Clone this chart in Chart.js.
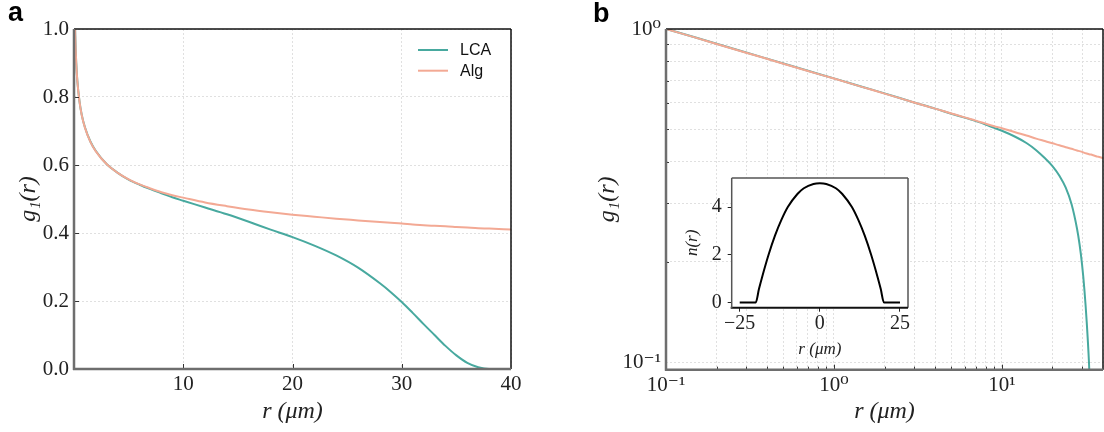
<!DOCTYPE html>
<html lang="en">
<head>
    <meta charset="UTF-8">
    <title>g1(r): LCA vs Alg</title>
    <style>
        body {
            margin: 0;
            background: #fff;
            width: 1104px;
            height: 432px;
            overflow: hidden;
            position: relative;
        }
        canvas { position: absolute; }
        #chartA { left: 0; top: 0; }
        #chartB { left: 580px; top: 0; }
        #chartC { left: 680px; top: 160px; }
    </style>
    <script src="https://cdn.jsdelivr.net/npm/chart.js"></script>
</head>
<body>
    <canvas id="chartA" width="560" height="432"></canvas>
    <canvas id="chartB" width="540" height="432"></canvas>
    <canvas id="chartC" width="240" height="210"></canvas>

    <script>
        // radius r (um) and the two correlation curves
        const radius    = [0.1, 0.15, 0.2, 0.3, 0.5, 0.7, 1, 1.5, 2, 3, 4, 5, 6, 7, 8, 9, 10, 12, 14, 16, 18, 20, 22, 24, 26, 28, 29, 30, 31, 32, 33, 34, 35, 36, 37, 38, 40];
        const lcaValues = [1.000, 0.943, 0.903, 0.850, 0.788, 0.749, 0.711, 0.669, 0.641, 0.602, 0.577, 0.557, 0.542, 0.529, 0.517, 0.505, 0.495, 0.475, 0.455, 0.433, 0.410, 0.388, 0.363, 0.334, 0.298, 0.252, 0.226, 0.197, 0.165, 0.132, 0.100, 0.068, 0.040, 0.018, 0.005, 0, 0];
        const algValues = [1.000, 0.942, 0.902, 0.849, 0.787, 0.748, 0.710, 0.668, 0.640, 0.602, 0.577, 0.558, 0.543, 0.531, 0.520, 0.511, 0.504, 0.490, 0.479, 0.469, 0.461, 0.454, 0.448, 0.442, 0.437, 0.432, 0.430, 0.428, 0.425, 0.423, 0.421, 0.420, 0.418, 0.416, 0.414, 0.413, 0.410];

        // inset: density profile n(r)
        const insetR = [-25, -20, -19, -18, -16, -14, -12, -10, -7, -5, -2, 0, 2, 5, 7, 10, 12, 14, 16, 18, 19, 20, 25];
        const insetN = [0, 0, 0.56, 1.07, 2.0, 2.8, 3.46, 4.0, 4.55, 4.79, 4.97, 5.0, 4.97, 4.79, 4.55, 4.0, 3.46, 2.8, 2.0, 1.07, 0.56, 0, 0];

        // tick values and labels
        const xTicksA  = [0, 10, 20, 30, 40];
        const xLabelsA = ['', '10', '20', '30', '40'];
        const yTicksA  = [0, 0.2, 0.4, 0.6, 0.8, 1.0];
        const yLabelsA = ['0.0', '0.2', '0.4', '0.6', '0.8', '1.0'];
        const xTicksB  = [0.1, 0.2, 0.3, 0.4, 0.5, 0.6, 0.7, 0.8, 0.9, 1, 2, 3, 4, 5, 6, 7, 8, 9, 10, 20, 30, 40];
        const xLabelsB = ['10⁻¹', '', '', '', '', '', '', '', '', '10⁰', '', '', '', '', '', '', '', '', '10¹', '', '', ''];
        const yTicksB  = [0.1, 0.2, 0.3, 0.4, 0.5, 0.6, 0.7, 0.8, 0.9, 1];
        const yLabelsB = ['10⁻¹', '', '', '', '', '', '', '', '', '10⁰'];
        const xTicksC  = [-25, 0, 25];
        const xLabelsC = ['\u221225', '0', '25'];
        const yTicksC  = [0, 2, 4];
        const yLabelsC = ['0', '2', '4'];

        const serif = "'Liberation Serif', 'DejaVu Serif', serif";
        const sans = "'Liberation Sans', Arial, sans-serif";
        const teal = '#48a99f';
        const salmon = '#f3a994';
        const gridColor = '#e0e0e0';
        const tickSize = 21;

        // white plot box, inward tick marks, spines, legend, panel letter
        const axesFrame = {
            id: 'axesFrame',
            beforeDraw(chart, args, opts) {
                if (!opts.fill) return;
                const { ctx, chartArea: a } = chart;
                ctx.save();
                ctx.fillStyle = '#fff';
                ctx.fillRect(a.left, a.top, a.right - a.left, a.bottom - a.top);
                ctx.restore();
            },
            afterDraw(chart, args, opts) {
                const { ctx, chartArea: a, scales } = chart;
                ctx.save();
                ctx.strokeStyle = '#333';
                ctx.lineWidth = 1;
                (opts.xMarks || []).forEach(m => {
                    const px = Math.round(scales.x.getPixelForValue(m[0])) + 0.5;
                    ctx.beginPath(); ctx.moveTo(px, a.bottom); ctx.lineTo(px, a.bottom - m[1]); ctx.stroke();
                });
                (opts.yMarks || []).forEach(m => {
                    const py = Math.round(scales.y.getPixelForValue(m[0])) + 0.5;
                    ctx.beginPath(); ctx.moveTo(a.left, py); ctx.lineTo(a.left + m[1], py); ctx.stroke();
                });

                const side = (x1, y1, x2, y2, s) => {
                    ctx.strokeStyle = s[0];
                    ctx.lineWidth = s[1];
                    ctx.beginPath(); ctx.moveTo(x1, y1); ctx.lineTo(x2, y2); ctx.stroke();
                };
                side(a.left, a.top, a.right, a.top, opts.top);
                side(a.right, a.top, a.right, a.bottom, opts.right);
                side(a.left - 1, a.bottom, a.right, a.bottom, opts.bottom);
                side(a.left, a.top, a.left, a.bottom + 1, opts.left);

                if (opts.legend) {
                    const L = opts.legend;
                    ctx.font = '16px ' + sans;
                    ctx.textBaseline = 'middle';
                    chart.data.datasets.forEach((ds, i) => {
                        const y = L.y + i * L.gap;
                        ctx.strokeStyle = ds.borderColor;
                        ctx.lineWidth = 2;
                        ctx.beginPath(); ctx.moveTo(L.x, y); ctx.lineTo(L.x + 30, y); ctx.stroke();
                        ctx.fillStyle = '#111';
                        ctx.fillText(ds.label, L.x + 42, y + 1);
                    });
                }
                if (opts.letter) {
                    ctx.font = 'bold 27px ' + sans;
                    ctx.textBaseline = 'alphabetic';
                    ctx.fillStyle = '#000';
                    ctx.fillText(opts.letter.text, opts.letter.x, opts.letter.y);
                }
                ctx.restore();
            }
        };

        function curve(label, xs, ys, color, order, positiveOnly) {
            const pts = xs.map((x, i) => ({ x: x, y: ys[i] })).filter(p => !positiveOnly || p.y > 0);
            return {
                label: label,
                data: pts,
                borderColor: color,
                borderWidth: 2,
                pointRadius: 0,
                fill: false,
                cubicInterpolationMode: 'monotone',
                order: order
            };
        }

        function axis(type, min, max, ticks, labels, pad, extra) {
            return Object.assign({
                type: type,
                min: min,
                max: max,
                afterBuildTicks: s => { s.ticks = ticks.map(v => ({ value: v })); },
                ticks: {
                    autoSkip: false, maxRotation: 0, padding: pad, color: '#222',
                    font: { family: serif, size: tickSize },
                    callback: (v, i) => labels[i]
                },
                grid: { color: gridColor, lineWidth: 1, drawTicks: false },
                border: { display: false, dash: [2, 2] }
            }, extra);
        }

        function title(text, size, pad) {
            return { display: true, text: text, color: '#222', padding: pad, font: { family: serif, size: size, style: 'italic' } };
        }

        const spines = {
            top: ['#111', 1.5], right: ['#111', 1.5],
            bottom: ['#6e6e6e', 2.5], left: ['#6e6e6e', 2.5]
        };

        // panel a : linear axes
        new Chart(document.getElementById('chartA'), {
            type: 'line',
            data: {
                datasets: [
                    curve('LCA', radius, lcaValues, teal, 1, false),
                    curve('Alg', radius, algValues, salmon, 0, false)
                ]
            },
            options: {
                responsive: false,
                animation: false,
                layout: { padding: { top: 29, right: 49, left: 0, bottom: 0 } },
                plugins: {
                    legend: { display: false },
                    tooltip: { enabled: false },
                    axesFrame: Object.assign({
                        xMarks: xTicksA.slice(1, -1).map(v => [v, 5]),
                        yMarks: yTicksA.slice(1, -1).map(v => [v, 5]),
                        legend: { x: 418, y: 50, gap: 20.7 },
                        letter: { text: 'a', x: 8, y: 21 }
                    }, spines)
                },
                scales: {
                    x: axis('linear', 0, 40, xTicksA, xLabelsA, 3, {
                        title: title('r (μm)', 24, { top: 0, bottom: 6 }),
                        afterFit: s => { s.height = 63; }
                    }),
                    y: axis('linear', 0, 1, yTicksA, yLabelsA, 5, {
                        title: title('g₁(r)', 24, { top: 14, bottom: 0 }),
                        afterFit: s => { s.width = 74; }
                    })
                }
            },
            plugins: [axesFrame]
        });

        // panel b : log-log axes
        new Chart(document.getElementById('chartB'), {
            type: 'line',
            data: {
                datasets: [
                    curve('LCA', radius, lcaValues, teal, 1, true),
                    curve('Alg', radius, algValues, salmon, 0, true)
                ]
            },
            options: {
                responsive: false,
                animation: false,
                layout: { padding: { top: 29, right: 17, left: 0, bottom: 0 } },
                plugins: {
                    legend: { display: false },
                    tooltip: { enabled: false },
                    axesFrame: Object.assign({
                        xMarks: xTicksB.slice(1, -1).map((v, i) => [v, xLabelsB[i + 1] ? 5 : 3]),
                        yMarks: yTicksB.slice(1, -1).map((v, i) => [v, yLabelsB[i + 1] ? 5 : 3]),
                        letter: { text: 'b', x: 13, y: 21.5 }
                    }, spines)
                },
                scales: {
                    x: axis('logarithmic', 0.1, 40, xTicksB, xLabelsB, 3, {
                        title: title('r (μm)', 24, { top: 0, bottom: 6 }),
                        afterFit: s => { s.height = 62.3; }
                    }),
                    y: axis('logarithmic', 0.095, 1, yTicksB, yLabelsB, 5, {
                        title: title('g₁(r)', 24, { top: 13, bottom: 0 }),
                        afterFit: s => { s.width = 86; }
                    })
                }
            },
            plugins: [axesFrame]
        });

        // inset : n(r)
        new Chart(document.getElementById('chartC'), {
            type: 'line',
            data: {
                datasets: [{
                    label: 'n(r)',
                    data: insetR.map((x, i) => ({ x: x, y: insetN[i] })),
                    borderColor: '#000',
                    borderWidth: 2,
                    pointRadius: 0,
                    fill: false,
                    cubicInterpolationMode: 'monotone'
                }]
            },
            options: {
                responsive: false,
                animation: false,
                layout: { padding: { top: 12, right: 12, left: 0, bottom: 0 } },
                plugins: {
                    legend: { display: false },
                    tooltip: { enabled: false },
                    axesFrame: {
                        fill: true,
                        top: ['#555', 1.5], right: ['#555', 1.5],
                        bottom: ['#111', 2], left: ['#555', 1.5]
                    }
                },
                scales: {
                    x: {
                        type: 'linear', min: -27.5, max: 27.5,
                        afterBuildTicks: s => { s.ticks = xTicksC.map(v => ({ value: v })); },
                        ticks: {
                            autoSkip: false, maxRotation: 0, padding: 0, color: '#222',
                            font: { family: serif, size: 20 }, callback: (v, i) => xLabelsC[i]
                        },
                        grid: { drawOnChartArea: false, drawTicks: true, tickLength: 4, tickColor: '#222' },
                        border: { display: false },
                        title: title('r (μm)', 17, { top: 0, bottom: 10 }),
                        afterFit: s => { s.height = 62.3; }
                    },
                    y: {
                        type: 'linear', min: -0.22, max: 5.22,
                        afterBuildTicks: s => { s.ticks = yTicksC.map(v => ({ value: v })); },
                        ticks: {
                            autoSkip: false, padding: 6, color: '#222',
                            font: { family: serif, size: 20 }, callback: (v, i) => yLabelsC[i]
                        },
                        grid: { drawOnChartArea: false, drawTicks: true, tickLength: 4, tickColor: '#222' },
                        border: { display: false },
                        title: title('n(r)', 17, { top: 2, bottom: 0 }),
                        afterFit: s => { s.width = 51.7; }
                    }
                }
            },
            plugins: [axesFrame]
        });
    </script>
</body>
</html>
